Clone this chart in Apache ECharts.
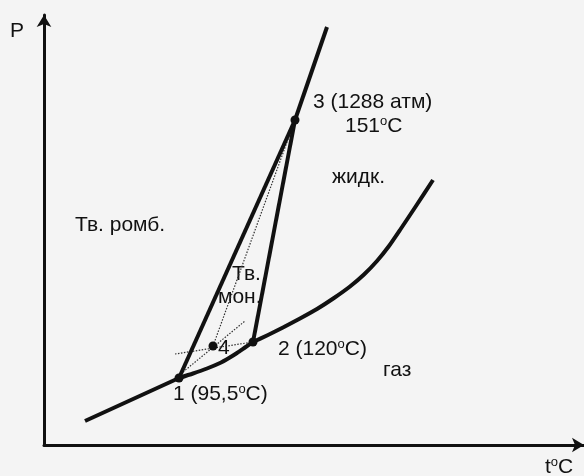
<!DOCTYPE html>
<html>
<head>
<meta charset="utf-8">
<script src="https://cdn.jsdelivr.net/npm/echarts@6/dist/echarts.min.js"></script>
<style>
html,body{margin:0;padding:0;background:#f4f4f4;}
#c{width:584px;height:476px;}
</style>
</head>
<body>
<div id="c"></div>
<script>
// Arbitrary diagram units (t along x, P along y)
const sublimationRhomb = [[41, 24], [135, 67]];
const sublimationMono = [[135, 67], [149, 71.5], [163, 76.5], [176, 82], [185, 87], [193, 92], [201, 97.5], [209, 103]];
const vaporLiquid = [[209, 103], [224, 110], [239, 117.5], [256, 126.5], [273, 136], [290, 147], [306, 158.5], [320, 170.5], [333, 184], [345, 199], [356, 215], [372, 239], [389, 265]];
const rhombMono = [[135, 67], [251, 325]];
const monoLiquid = [[209, 103], [251, 325]];
const rhombLiquid = [[251, 325], [283, 418]];
const metaA = [[131, 91], [209, 103]];
const metaB = [[139, 73], [201, 124]];
const metaC = [[169, 99], [251, 325]];
const points = [[135, 67], [209, 103], [251, 325], [169, 99]];

const FONT = '"Liberation Sans", Arial, sans-serif';
const INK = '#111';

function solid(data, smooth) {
  return {type: 'line', data: data, showSymbol: false, smooth: smooth || false,
    lineStyle: {color: INK, width: 4, join: 'round'}, silent: true, z: 3};
}
function dotted(data) {
  return {type: 'line', data: data, showSymbol: false,
    lineStyle: {color: '#333', width: 1.2, type: [1.5, 1.5]}, silent: true, z: 2};
}
function txt(x, y, text) {
  return {type: 'text', x: x, y: y, style: {text: text, font: '21px ' + FONT, fill: INK, verticalAlign: 'middle'}};
}
function rtxt(x, y, text) {
  return {type: 'text', x: x, y: y, style: {text: text, fill: INK, verticalAlign: 'middle',
    rich: {n: {fontSize: 21, fontFamily: FONT, color: INK},
           s: {fontSize: 13, fontFamily: FONT, color: INK, padding: [0, 0, 10, 0]}}}};
}

const chart = echarts.init(document.getElementById('c'));
chart.setOption({
  backgroundColor: '#f4f4f4',
  animation: false,
  grid: {left: 44, right: 0, top: 15, bottom: 31},
  xAxis: {type: 'value', min: 0, max: 540, axisTick: {show: false}, axisLabel: {show: false}, splitLine: {show: false},
    axisLine: {show: true, symbol: ['none', 'arrow'], symbolSize: [11, 12], lineStyle: {color: INK, width: 3}}},
  yAxis: {type: 'value', min: 0, max: 430, axisTick: {show: false}, axisLabel: {show: false}, splitLine: {show: false},
    axisLine: {show: true, symbol: ['none', 'arrow'], symbolSize: [11, 12], lineStyle: {color: INK, width: 3}}},
  series: [
    solid(sublimationRhomb),
    solid(sublimationMono, 0.2),
    solid(vaporLiquid, 0.2),
    solid(rhombMono),
    solid(monoLiquid),
    solid(rhombLiquid),
    dotted(metaA),
    dotted(metaB),
    dotted(metaC),
    {type: 'scatter', data: points, symbolSize: 9, itemStyle: {color: INK, opacity: 1}, z: 5, silent: true}
  ],
  graphic: [
    txt(10, 31, 'P'),
    txt(75, 225, 'Тв. ромб.'),
    txt(232, 274, 'Тв.'),
    txt(218, 297, 'мон.'),
    txt(313, 102, '3 (1288 атм)'),
    rtxt(345, 126, '{n|151}{s|o}{n|C}'),
    txt(332, 177, 'жидк.'),
    rtxt(278, 349, '{n|2 (120}{s|o}{n|C)}'),
    rtxt(173, 394, '{n|1 (95,5}{s|o}{n|C)}'),
    txt(218, 348, '4'),
    txt(383, 370, 'газ'),
    rtxt(545, 467, '{n|t}{s|o}{n|C}')
  ]
});
</script>
</body>
</html>
